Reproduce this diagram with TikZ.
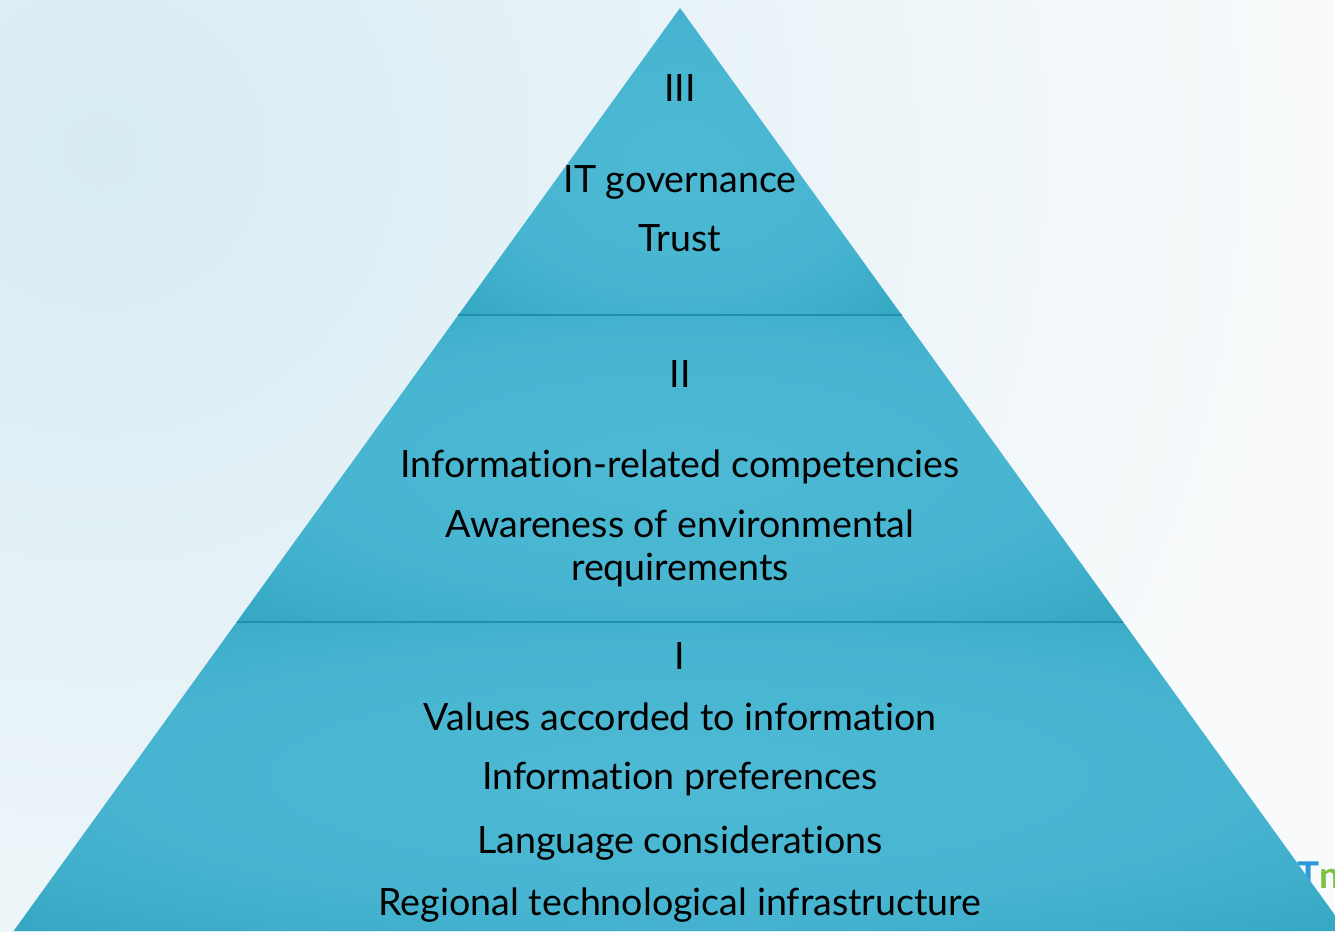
\documentclass[tikz,border=0pt]{standalone}
\usepackage{fontspec}
\setmainfont{Lato}[Ligatures=NoCommon]
\usepackage{xcolor}
\usepackage{tikz}
\definecolor{paper}{HTML}{F8FAFB}
\definecolor{sky}{HTML}{D8ECF4}
\definecolor{bandlight}{HTML}{4DB9D5}
\definecolor{banddark}{HTML}{2299B5}
\definecolor{seam}{HTML}{1E90AB}
\definecolor{logoblue}{HTML}{2C9AD8}
\definecolor{logogreen}{HTML}{7CC143}
\pgfdeclareradialshading{bandglow}{\pgfpoint{0cm}{0cm}}{color(0bp)=(bandlight); color(22bp)=(bandlight!85!banddark); color(50bp)=(banddark)}
\tikzset{tier/.style={font=\fontsize{21.4}{24.4}\selectfont, align=center, inner sep=0pt, anchor=base}}

\begin{document}
\begin{tikzpicture}[x=0.02cm, y=-0.02cm]
			\useasboundingbox (0,0) rectangle (1335,931);
			\fill[paper] (0,0) rectangle (1335,931);
			\shade[inner color=sky, outer color=paper] (-1100,-1000) rectangle (1300,1300);
			\node[anchor=base west, inner sep=0pt, font=\bfseries\fontsize{21}{24}\selectfont] (logo) at (1297,888) {\textcolor{logoblue}{T}\textcolor{logogreen}{n}};
			\clip (0,0) rectangle (1335,931);
			% pyramid corners
			\coordinate (apex) at (680,8);
			\coordinate (l2) at (458.3,315);
			\coordinate (r2) at (901.7,315);
			\coordinate (l1) at (236.7,622);
			\coordinate (r1) at (1123.3,622);
			\coordinate (l0) at (13.6,931);
			\coordinate (r0) at (1346.4,931);
			\shade[shading=bandglow] (apex) -- (r2) -- (l2) -- cycle;
			\shade[shading=bandglow] (l2) -- (r2) -- (r1) -- (l1) -- cycle;
			\shade[shading=bandglow] (l1) -- (r1) -- (r0) -- (l0) -- cycle;
			\draw[seam, line width=0.04cm] (l2) -- (r2);
			\draw[seam, line width=0.04cm] (l1) -- (r1);
			% level III
			\node[tier] (numIII) at (680,101) {III};
			\node[tier] (itgov) at (680,192) {IT governance};
			\node[tier] (trust) at (680,251) {Trust};
			% level II
			\node[tier] (numII) at (680,387) {II};
			\node[tier] (infocomp) at (680,477) {Information-related competencies};
			\node[tier] (aware) at (680,580) {Awareness of environmental\\requirements};
			% level I
			\node[tier] (numI) at (680,669) {I};
			\node[tier] (values) at (680,730) {Values accorded to information};
			\node[tier] (infopref) at (680,789) {Information preferences};
			\node[tier] (lang) at (680,853) {Language considerations};
			\node[tier] (infra) at (680,915) {Regional technological infrastructure};
		\end{tikzpicture}
\end{document}
